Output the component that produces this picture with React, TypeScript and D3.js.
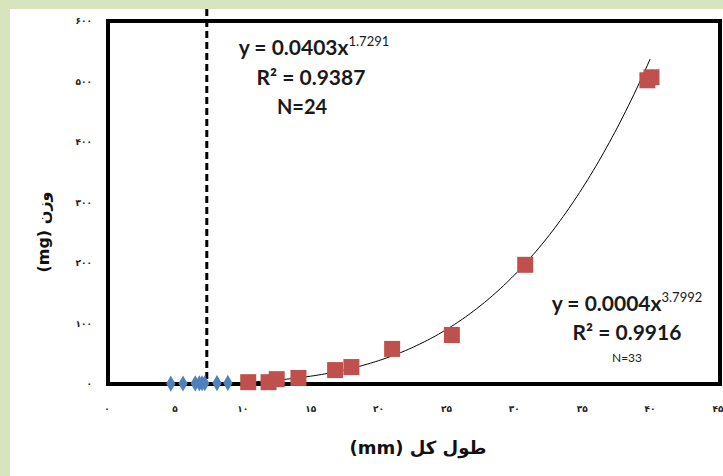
import React from 'react'
import * as d3 from 'd3'

// juveniles (blue) and adults (red): total length (mm) vs weight (mg)
const blueLength = [4.7, 5.6, 6.5, 6.8, 7.0, 7.2, 8.1, 8.9]
const blueWeight = [0.6, 0.8, 1.0, 1.1, 1.2, 1.3, 1.5, 1.8]
const redLength = [10.4, 11.9, 12.5, 14.1, 16.8, 18.0, 21.0, 25.4, 30.8, 39.8, 40.1]
const redWeight = [3, 3, 8, 10, 23, 28, 58, 81, 197, 502, 507]

const xTicks = [0, 5, 10, 15, 20, 25, 30, 35, 40, 45]
const yTicks = [0, 100, 200, 300, 400, 500, 600]
const cutLength = 7.35

// power trendline of the red series
const fitA = 0.00044
const fitB = 3.7992

const faDigits = '۰۱۲۳۴۵۶۷۸۹'
const toFa = (n: number) => String(n).replace(/\d/g, d => faDigits[+d])

export default function App() {
  const W = 723
  const H = 476
  const frame = { left: 108, top: 21, right: 720, bottom: 384 }

  const x = d3.scaleLinear().domain([0, 45]).range([107, 718])
  const y = d3.scaleLinear().domain([0, 600]).range([384, 21])

  const fitPts = d3.range(redLength[0], d3.max(redLength)! + 0.001, 0.2)
    .map(v => [v, fitA * Math.pow(v, fitB)] as [number, number])
  const line = d3.line<[number, number]>().x(d => x(d[0])).y(d => y(d[1]))

  const diamond = d3.symbol().type(d3.symbolDiamond).size(75)()!

  const annFont = 'Lato, "Open Sans", sans-serif'
  const faFont = '"DejaVu Sans", sans-serif'

  return (
    <svg width={W} height={H} style={{ position: 'absolute', left: 0, top: 0 }}>
      <rect x={0} y={0} width={W} height={H} fill="#d7e4bd" />
      <rect x={10} y={9} width={W - 10} height={H - 9} fill="#ffffff" />

      {/* frame */}
      <rect x={frame.left} y={frame.top} width={frame.right - frame.left} height={frame.bottom - frame.top}
        fill="none" stroke="#000" strokeWidth={4} />

      {/* y tick labels */}
      {yTicks.map(t => (
        <text key={'y' + t} x={92} y={y(t) + 3} textAnchor="end" fontFamily={faFont}
          fontSize={9} fontWeight="bold" fill="#222">{toFa(t)}</text>
      ))}
      {/* x tick labels */}
      {xTicks.map(t => (
        <text key={'x' + t} x={x(t)} y={412} textAnchor="middle" fontFamily={faFont}
          fontSize={9} fontWeight="bold" fill="#222">{toFa(t)}</text>
      ))}

      {/* cut-off line */}
      <line x1={x(cutLength)} x2={x(cutLength)} y1={9} y2={frame.bottom} stroke="#000"
        strokeWidth={3} strokeDasharray="7,4" />

      {/* trendline */}
      <path d={line(fitPts)!} fill="none" stroke="#000" strokeWidth={1} />

      {blueLength.map((v, i) => (
        <path key={'b' + i} d={diamond} transform={`translate(${x(v)},${y(blueWeight[i])})`} fill="#4f81bd" />
      ))}
      {redLength.map((v, i) => (
        <rect key={'r' + i} x={x(v) - 8} y={y(redWeight[i]) - 8} width={16} height={16} fill="#c0504d" />
      ))}

      {/* equations */}
      <g fontFamily={annFont} fontWeight="bold" fill="#1a1a1a" textAnchor="middle">
        <text x={314} y={55} fontSize={21}>y = 0.0403x<tspan fontSize={13} fontWeight="normal" dy={-9}>1.7291</tspan></text>
        <text x={311} y={85} fontSize={21}>R² = 0.9387</text>
        <text x={302} y={114} fontSize={20}>N=24</text>
        <text x={627} y={311} fontSize={21}>y = 0.0004x<tspan fontSize={13} fontWeight="normal" dy={-9}>3.7992</tspan></text>
        <text x={627} y={340} fontSize={21}>R² = 0.9916</text>
        <text x={627} y={362} fontSize={12} fontWeight="normal">N=33</text>
      </g>

      {/* axis titles */}
      <text x={418} y={454} textAnchor="middle" direction="rtl" fontFamily={faFont} fontSize={18}
        fontWeight="bold" fill="#111">طول کل (mm)</text>
      <text transform={`translate(49,232) rotate(-90)`} textAnchor="middle" direction="rtl" fontFamily={faFont}
        fontSize={16} fontWeight="bold" fill="#111">وزن (mg)</text>
    </svg>
  )
}
